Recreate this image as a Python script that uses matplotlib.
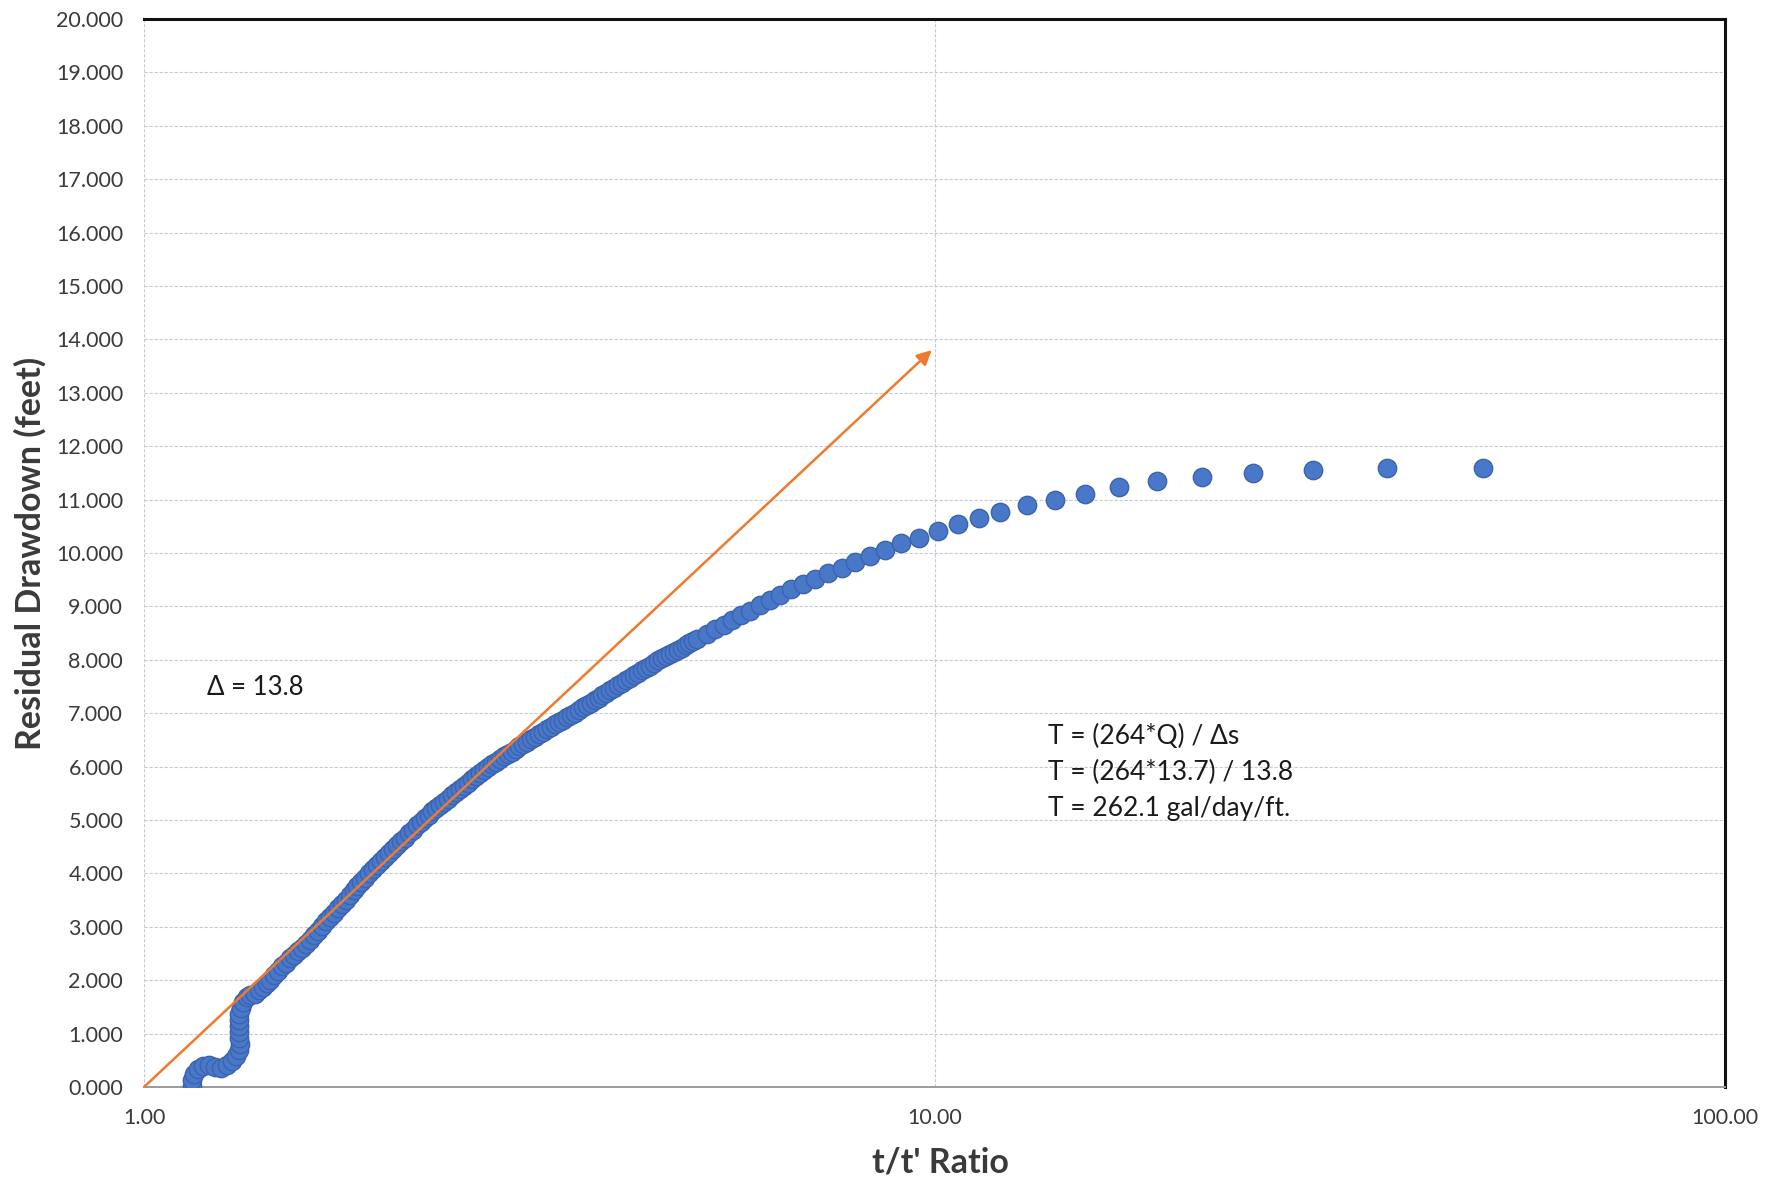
import matplotlib
matplotlib.use("Agg")
import matplotlib.pyplot as plt
from matplotlib.ticker import FixedLocator, NullLocator, FixedFormatter

plt.rcParams['font.family'] = ['Lato', 'DejaVu Sans']

# ---- data ----
ratio = [
    1.149, 1.149, 1.157, 1.170, 1.188, 1.208, 1.230, 1.251, 1.274, 1.292,
    1.307, 1.319, 1.323, 1.319, 1.317, 1.317, 1.317, 1.319, 1.325, 1.334,
    1.350, 1.362,
    1.380, 1.396, 1.413, 1.429, 1.445, 1.462, 1.479, 1.496, 1.514, 1.531,
    1.549, 1.567, 1.585, 1.603, 1.622, 1.641, 1.660, 1.679, 1.698, 1.718,
    1.738, 1.758, 1.778, 1.799, 1.820, 1.841, 1.862, 1.884, 1.905, 1.928,
    1.950, 1.972, 1.995, 2.018, 2.042, 2.065, 2.089, 2.113, 2.138, 2.163,
    2.188, 2.213, 2.239, 2.265, 2.291, 2.317, 2.344, 2.371, 2.399, 2.427,
    2.455, 2.483, 2.512, 2.541, 2.570, 2.600, 2.630, 2.661, 2.692, 2.723,
    2.754, 2.786, 2.818, 2.851, 2.884, 2.917, 2.951, 2.985, 3.020, 3.055,
    3.090, 3.126, 3.162, 3.199, 3.236, 3.273, 3.311, 3.350, 3.388, 3.428,
    3.467, 3.508, 3.548, 3.589, 3.631, 3.673, 3.715, 3.758, 3.802, 3.846,
    3.890, 3.936, 3.981, 4.027, 4.074, 4.121, 4.169, 4.217, 4.266, 4.315,
    4.365, 4.416, 4.467, 4.519, 4.571, 4.624, 4.677, 4.732, 4.786, 4.842,
    4.898, 4.955, 5.012,
    5.15, 5.28, 5.41, 5.54, 5.69, 5.85, 6.02, 6.19, 6.38, 6.58,
    6.81, 7.06, 7.34, 7.63, 7.93, 8.29, 8.66, 9.08, 9.56, 10.09,
    10.71, 11.39, 12.1, 13.1, 14.2, 15.5, 17.1, 19.1, 21.8, 25.3,
    30.1, 37.4, 49.4,
]
drawdown = [
    0.02, 0.13, 0.24, 0.34, 0.39, 0.41, 0.37, 0.36, 0.41, 0.49,
    0.58, 0.69, 0.81, 0.92, 1.03, 1.14, 1.25, 1.37, 1.48, 1.59,
    1.69, 1.72,
    1.75, 1.81, 1.87, 1.94, 2.01, 2.09, 2.18, 2.26, 2.33, 2.41,
    2.48, 2.54, 2.61, 2.68, 2.76, 2.85, 2.93, 3.02, 3.10, 3.18,
    3.26, 3.35, 3.43, 3.51, 3.59, 3.68, 3.76, 3.84, 3.92, 4.00,
    4.08, 4.15, 4.23, 4.30, 4.38, 4.45, 4.53, 4.60, 4.67, 4.75,
    4.82, 4.90, 4.97, 5.04, 5.10, 5.16, 5.22, 5.28, 5.34, 5.40,
    5.46, 5.52, 5.58, 5.64, 5.70, 5.76, 5.82, 5.88, 5.94, 5.99,
    6.04, 6.09, 6.14, 6.19, 6.24, 6.28, 6.33, 6.38, 6.42, 6.47,
    6.52, 6.56, 6.61, 6.65, 6.70, 6.74, 6.79, 6.83, 6.88, 6.92,
    6.97, 7.01, 7.06, 7.11, 7.16, 7.20, 7.25, 7.29, 7.34, 7.38,
    7.43, 7.47, 7.52, 7.57, 7.62, 7.66, 7.71, 7.75, 7.80, 7.84,
    7.89, 7.94, 7.99, 8.03, 8.07, 8.11, 8.15, 8.19, 8.23, 8.27,
    8.31, 8.35, 8.39,
    8.48, 8.57, 8.65, 8.75, 8.84, 8.92, 9.03, 9.12, 9.21, 9.32,
    9.42, 9.51, 9.62, 9.72, 9.84, 9.94, 10.06, 10.18, 10.29, 10.42,
    10.54, 10.65, 10.77, 10.90, 11.00, 11.11, 11.24, 11.34, 11.42, 11.49,
    11.56, 11.60, 11.60,
]
arrow_x = [1.0, 9.92]
arrow_y = [0.0, 13.8]

x_ticks = [1, 10, 100]
x_tick_labels = ["1.00", "10.00", "100.00"]
y_ticks = list(range(0, 21))
y_tick_labels = [f"{v:.3f}" for v in y_ticks]

delta_text = "Δ = 13.8"
eq_lines = ["T = (264*Q) / Δs", "T = (264*13.7) / 13.8", "T = 262.1 gal/day/ft."]

# ---- figure ----
W, H = 1784, 1186
fig = plt.figure(figsize=(W / 100, H / 100), dpi=100)
fig.patch.set_facecolor("white")
ax = fig.add_axes([144 / W, 1 - 1087 / H, (1725 - 144) / W, (1087 - 19) / H])

ax.set_xscale("log")
ax.set_xlim(1, 100)
ax.set_ylim(0, 20)

grid_kw = dict(color="#c6cad6", linewidth=0.8, linestyle=(0, (3, 1.5)))
ax.xaxis.set_major_locator(FixedLocator(x_ticks))
ax.xaxis.set_major_formatter(FixedFormatter(x_tick_labels))
ax.xaxis.set_minor_locator(NullLocator())
ax.yaxis.set_major_locator(FixedLocator(y_ticks))
ax.yaxis.set_major_formatter(FixedFormatter(y_tick_labels))
ax.grid(True, which="major", axis="both", **grid_kw, zorder=0)
ax.set_axisbelow(True)

ax.tick_params(axis="both", length=0, labelsize=15.5, labelcolor="#3a3a3a")
ax.tick_params(axis="y", pad=15)
ax.tick_params(axis="x", pad=15)

for side in ("top", "right"):
    ax.spines[side].set_color("#111111")
    ax.spines[side].set_linewidth(2.2)
ax.spines["left"].set_visible(False)
ax.spines["bottom"].set_color("#9a9a9a")
ax.spines["bottom"].set_linewidth(1.4)

ax.scatter(ratio, drawdown, s=175, facecolor="#4a78c9", edgecolor="#3a63b0",
           linewidth=1.0, zorder=3)

ax.annotate("", xy=(arrow_x[1], arrow_y[1]), xytext=(arrow_x[0], arrow_y[0]),
            arrowprops=dict(arrowstyle="-|>", color="#ee7a2e", lw=1.8,
                            mutation_scale=22, shrinkA=0, shrinkB=0),
            zorder=4)

ax.text(1.20, 7.49, delta_text, fontsize=18.5, color="#1a1a1a",
        ha="left", va="center", zorder=5)
for i, line in enumerate(eq_lines):
    ax.text(13.9, 6.57 - i * 0.68, line, fontsize=19, color="#1a1a1a",
            ha="left", va="center", zorder=5)

fig.text(30 / W, 1 - 553 / H, "Residual Drawdown (feet)", rotation=90,
         ha="center", va="center", fontsize=24.5, fontweight="bold",
         color="#3a3a3a")
fig.text(940 / W, 1 - 1162 / H, "t/t' Ratio", ha="center", va="center",
         fontsize=24.5, fontweight="bold", color="#3a3a3a")

fig.savefig("out.png", dpi=100, facecolor="white")
